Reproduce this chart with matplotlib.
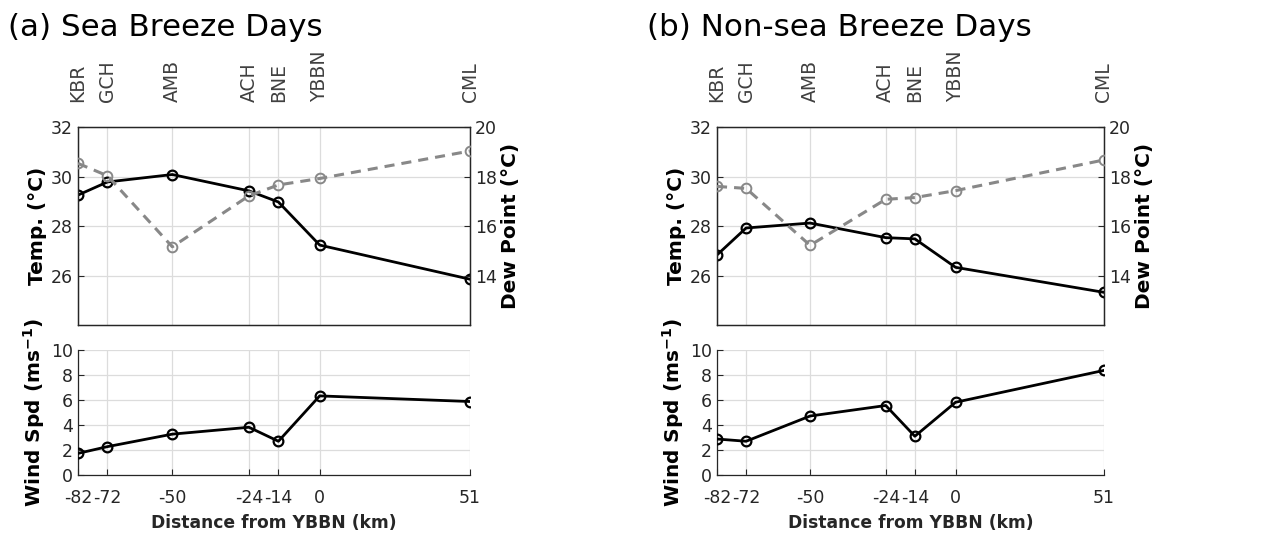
import numpy as np
import matplotlib.pyplot as plt

# station distances from YBBN (km) and names
dist = [-82, -72, -50, -24, -14, 0, 51]
stations = ['KBR', 'GCH', 'AMB', 'ACH', 'BNE', 'YBBN', 'CML']

# sea breeze days
temp_sb = [29.25, 29.78, 30.08, 29.42, 28.97, 27.23, 25.85]
dew_sb = [18.53, 18.03, 15.16, 17.22, 17.66, 17.92, 19.03]
wind_sb = [1.73, 2.27, 3.27, 3.82, 2.70, 6.33, 5.88]

# non-sea breeze days
temp_nsb = [26.83, 27.92, 28.12, 27.53, 27.48, 26.33, 25.32]
dew_nsb = [17.60, 17.52, 15.22, 17.08, 17.15, 17.43, 18.67]
wind_nsb = [2.88, 2.70, 4.72, 5.56, 3.10, 5.82, 8.37]

titles = ['(a) Sea Breeze Days', '(b) Non-sea Breeze Days']

plt.rcParams['font.family'] = 'DejaVu Sans'
plt.rcParams['axes.unicode_minus'] = False
TXT = '#262626'
GRID = '#dcdcdc'
TICK_FS = 12.5
LABEL_FS = 14.5

fig = plt.figure(figsize=(12.87, 5.33), dpi=100)

lefts = [0.0606, 0.5571]
widths = [0.3046, 0.3007]
data = [(temp_sb, dew_sb, wind_sb), (temp_nsb, dew_nsb, wind_nsb)]


def style_ax(ax):
    ax.tick_params(direction='in', length=4, width=0.8, colors=TXT,
                   labelsize=TICK_FS)
    ax.grid(True, color=GRID, lw=0.9)
    ax.set_axisbelow(True)
    for s in ax.spines.values():
        s.set_color(TXT)
        s.set_linewidth(0.9)


for i in range(2):
    temp, dew, wind = data[i]

    # temperature / dew point panel
    ax = fig.add_axes([lefts[i], 0.3902, widths[i], 0.3715])
    style_ax(ax)
    ax.plot(dist, temp, '-o', color='black', lw=2, ms=7, mfc='none',
            mew=1.6, zorder=4)
    ax.set_xlim(-82, 51)
    ax.set_ylim(24, 32)
    ax.set_yticks([26, 28, 30, 32])
    ax.set_xticks(dist)
    ax.set_xticklabels(stations, rotation=90, fontsize=13.5, color='#404040')
    ax.tick_params(axis='x', bottom=True, top=False, labelbottom=False,
                   labeltop=True, pad=18, length=0)
    ax.set_ylabel('Temp. (°C)', fontsize=LABEL_FS, fontweight='bold',
                  color='black', labelpad=3)

    ax2 = ax.twinx()
    ax2.plot(dist, dew, 'o', color='#888888', ls=(0, (3.3, 2.3)), lw=2.2,
             ms=7, mfc='none', mew=1.4, zorder=3)
    ax2.set_ylim(12, 20)
    ax2.set_yticks([14, 16, 18, 20])
    ax2.tick_params(direction='in', length=4, width=0.8, colors=TXT,
                    labelsize=TICK_FS)
    for s in ax2.spines.values():
        s.set_color(TXT)
        s.set_linewidth(0.9)
    ax2.set_ylabel('Dew Point (°C)', fontsize=LABEL_FS, fontweight='bold',
                   color='black', labelpad=3)

    # wind speed panel
    axw = fig.add_axes([lefts[i], 0.1088, widths[i], 0.2345])
    style_ax(axw)
    axw.spines['top'].set_visible(False)
    axw.spines['right'].set_visible(False)
    axw.plot(dist, wind, '-o', color='black', lw=2, ms=7, mfc='none',
             mew=1.6, zorder=4)
    axw.set_xlim(-82, 51)
    axw.set_ylim(0, 10)
    axw.set_yticks([0, 2, 4, 6, 8, 10])
    axw.set_xticks(dist)
    axw.set_xticklabels([str(d) for d in dist])
    axw.tick_params(axis='x', pad=10)
    axw.set_ylabel('Wind Spd (ms$^{\\mathbf{-1}}$)', fontsize=LABEL_FS,
                   fontweight='bold', color='black', labelpad=3)
    axw.set_xlabel('Distance from YBBN (km)', fontsize=12.3, fontweight='bold',
                   color=TXT, labelpad=5)

    fig.text(lefts[i] - 0.054, 0.949, titles[i], fontsize=22.3, va='center',
             ha='left', color='black')

fig.savefig('out.png', dpi=100)
